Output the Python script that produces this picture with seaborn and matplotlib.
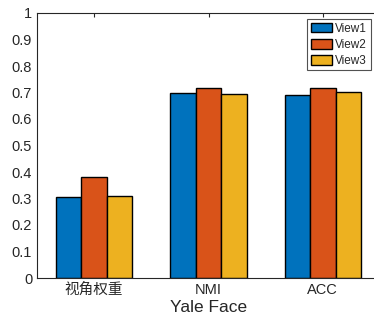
import numpy as np
import pandas as pd
import seaborn as sns
import matplotlib.pyplot as plt

# 数据
categories = ["视角权重", "NMI", "ACC"]
views = ["View1", "View2", "View3"]
view1 = [0.304, 0.700, 0.692]
view2 = [0.383, 0.717, 0.718]
view3 = [0.311, 0.693, 0.701]
colors = ["#0072BD", "#D95319", "#EDB120"]

df = pd.DataFrame({
    "category": categories * 3,
    "view": [v for v in views for _ in categories],
    "value": view1 + view2 + view3,
})

sns.set_style("white")
plt.rcParams["font.family"] = ["Liberation Sans", "Noto Sans CJK SC", "DejaVu Sans"]

fig = plt.figure(figsize=(3.74, 3.21), dpi=100)
ax = fig.add_axes([37 / 374, 1 - 278 / 321, (380 - 37) / 374, (278 - 13) / 321])

sns.barplot(data=df, x="category", y="value", hue="view", palette=colors,
            saturation=1, width=0.67, edgecolor="black", linewidth=1, ax=ax)

ax.set_ylim(0, 1)
ax.set_xlim(-0.5, 2.5)
ax.set_yticks(np.arange(0, 1.01, 0.1))
ax.set_yticklabels(["0", "0.1", "0.2", "0.3", "0.4", "0.5", "0.6", "0.7", "0.8", "0.9", "1"])
ax.tick_params(axis="both", direction="in", labelsize=10.5, colors="#262626",
               top=True, right=True, length=3)
ax.set_xlabel("Yale Face", fontsize=12.5, color="#262626", labelpad=2)
ax.set_ylabel("")
for s in ax.spines.values():
    s.set_color("#262626")
    s.set_linewidth(0.8)

leg = ax.legend(loc="upper left", bbox_to_anchor=(270 / 343, 0.977), fontsize=8.5,
                frameon=True, fancybox=False, edgecolor="#262626",
                handlelength=1.85, handleheight=0.9, borderpad=0.3,
                labelspacing=0.35, handletextpad=0.25, borderaxespad=0)
leg.get_frame().set_linewidth(0.8)

fig.savefig("out.png", dpi=100)
